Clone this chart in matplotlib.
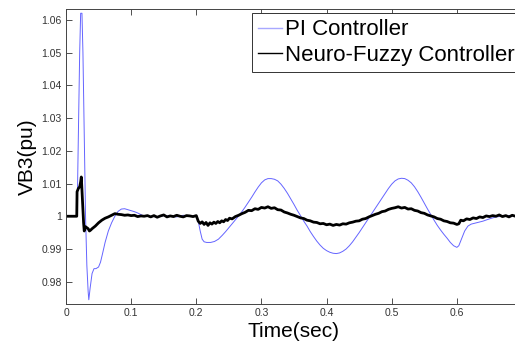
import matplotlib
matplotlib.use("Agg")
import matplotlib.pyplot as plt

plt.rcParams['font.family'] = ['Liberation Sans', 'DejaVu Sans']

# PI controller response
t_pi = [0, 0.017, 0.019, 0.021, 0.0225, 0.0245, 0.026, 0.028, 0.030, 0.032,
        0.034, 0.035, 0.037, 0.040, 0.043, 0.046, 0.050, 0.053, 0.056, 0.060,
        0.065, 0.070, 0.075, 0.080, 0.085, 0.090, 0.095, 0.100, 0.105, 0.110,
        0.115, 0.120, 0.130, 0.140, 0.150, 0.160, 0.170, 0.180, 0.190, 0.200,
        0.203, 0.206, 0.209, 0.212, 0.216, 0.222, 0.228, 0.234,
        0.240, 0.245, 0.250, 0.255, 0.260, 0.265, 0.270, 0.275, 0.280, 0.285,
        0.290, 0.295, 0.300, 0.305, 0.310, 0.315, 0.320, 0.325, 0.330, 0.335,
        0.340, 0.345, 0.350, 0.355, 0.360, 0.365, 0.370, 0.375, 0.380, 0.385,
        0.390, 0.395, 0.400, 0.405, 0.410, 0.415, 0.420, 0.425, 0.430, 0.435,
        0.440, 0.445, 0.450, 0.455, 0.460, 0.465, 0.470, 0.475, 0.480, 0.485,
        0.490, 0.495, 0.500, 0.505, 0.510, 0.515, 0.520, 0.525, 0.530, 0.535,
        0.540, 0.545, 0.550, 0.555, 0.560, 0.565, 0.570, 0.575, 0.580, 0.585,
        0.590, 0.595, 0.600, 0.603, 0.607, 0.612, 0.617, 0.622, 0.630, 0.640,
        0.650, 0.660, 0.670, 0.680, 0.690]
v_pi = [1.0, 1.0, 1.025, 1.05, 1.062, 1.062, 1.05, 1.025, 1.0, 0.985,
        0.977, 0.9745, 0.978, 0.9825, 0.984, 0.984, 0.9845, 0.986, 0.9885, 0.992,
        0.9955, 0.998, 1.0, 1.0015, 1.0022, 1.0023, 1.002, 1.0017, 1.0014, 1.001,
        1.0005, 1.0, 1.0, 0.9998, 1.0002, 1.0, 0.9998, 1.0003, 1.0, 1.0,
        0.9985, 0.9955, 0.993, 0.9922, 0.992, 0.992, 0.9923, 0.993,
        0.9942, 0.9953, 0.9965, 0.9977, 0.9989, 1.0001, 1.0014, 1.0028, 1.0043, 1.0058,
        1.0074, 1.0089, 1.0102, 1.0111, 1.0115, 1.0115, 1.0113, 1.0108, 1.0098, 1.0085,
        1.007, 1.0053, 1.0036, 1.0018, 1.0002, 0.9985, 0.997, 0.9953, 0.9938, 0.9924,
        0.9912, 0.9902, 0.9895, 0.989, 0.9887, 0.9886, 0.9888, 0.9893, 0.99, 0.991,
        0.9922, 0.9936, 0.995, 0.9965, 0.998, 0.9995, 1.001, 1.0025, 1.004, 1.0055,
        1.007, 1.0085, 1.0098, 1.0108, 1.0114, 1.0116, 1.0115, 1.011, 1.0102, 1.009,
        1.0075, 1.0058, 1.004, 1.0022, 1.0005, 0.9988, 0.9972, 0.9958, 0.9945, 0.9933,
        0.992, 0.991, 0.9905, 0.991, 0.993, 0.9955, 0.997, 0.9976, 0.998, 0.9985,
        0.9992, 0.9998, 1.0, 1.0002, 1.0]

# Neuro-fuzzy controller response
t_nf = [0, 0.0165, 0.017, 0.019, 0.021, 0.0225, 0.0235, 0.025, 0.027, 0.028,
        0.030, 0.032, 0.034, 0.036, 0.038, 0.040, 0.045, 0.050, 0.055, 0.060,
        0.065, 0.070, 0.075, 0.080, 0.085, 0.090, 0.095, 0.100, 0.105, 0.110,
        0.115, 0.120, 0.125, 0.130, 0.135, 0.140, 0.145, 0.150, 0.155, 0.160,
        0.165, 0.170, 0.175, 0.180, 0.185, 0.190, 0.195, 0.200,
        0.203, 0.206, 0.209, 0.212, 0.215, 0.218, 0.221, 0.224, 0.227, 0.230,
        0.233, 0.236, 0.239, 0.242, 0.245, 0.248, 0.251, 0.255, 0.260, 0.265,
        0.270, 0.275, 0.280, 0.285, 0.290, 0.295, 0.300, 0.305, 0.310, 0.315,
        0.320, 0.325, 0.330, 0.335, 0.340, 0.345, 0.350, 0.355, 0.360, 0.365,
        0.370, 0.375, 0.380, 0.385, 0.390, 0.395, 0.400, 0.405, 0.410, 0.415,
        0.420, 0.425, 0.430, 0.435, 0.440, 0.445, 0.450, 0.455, 0.460, 0.465,
        0.470, 0.475, 0.480, 0.485, 0.490, 0.495, 0.500, 0.505, 0.510, 0.515,
        0.520, 0.525, 0.530, 0.535, 0.540, 0.545, 0.550, 0.555, 0.560, 0.565,
        0.570, 0.575, 0.580, 0.585, 0.590, 0.595, 0.600, 0.603, 0.606, 0.610,
        0.615, 0.620, 0.625, 0.630, 0.635, 0.640, 0.645, 0.650, 0.655, 0.660,
        0.665, 0.670, 0.675, 0.680, 0.685, 0.690]
v_nf = [1.0, 1.0, 1.0075, 1.0085, 1.009, 1.0105, 1.012, 1.006, 0.998, 0.9955,
        0.9968, 0.9965, 0.9962, 0.9955, 0.9958, 0.9962, 0.997, 0.998, 0.9988, 0.9994,
        0.9998, 1.0003, 1.0008, 1.0006, 1.0005, 1.0003, 1.0004, 1.0002, 1.0003, 0.9999,
        1.0001, 1.0, 1.0002, 0.9998, 1.0002, 0.9997, 1.0001, 1.0004, 0.9998, 1.0001,
        0.9999, 1.0003, 1.0, 0.9998, 1.0002, 1.0001, 0.9999, 1.0002,
        0.9985, 0.9978, 0.9983, 0.9975, 0.9981, 0.9972, 0.998, 0.9976, 0.9982, 0.9978,
        0.9984, 0.998, 0.9986, 0.9983, 0.999, 0.9987, 0.9994, 0.9992, 0.9999, 1.0003,
        1.0008, 1.0012, 1.0018, 1.0017, 1.0023, 1.0021, 1.0027, 1.0025, 1.0029, 1.0024,
        1.0026, 1.002, 1.0019, 1.0013, 1.001, 1.0006, 1.0003, 0.9999, 0.9995, 0.9993,
        0.9988, 0.9986, 0.9982, 0.9981, 0.9977, 0.9978, 0.9974, 0.9976, 0.9972, 0.9975,
        0.9973, 0.9977, 0.9976, 0.998, 0.9982, 0.9985, 0.9986, 0.9991, 0.9993, 0.9998,
        1.0002, 1.0006, 1.0009, 1.0014, 1.0016, 1.0021, 1.0024, 1.0026, 1.0029, 1.0025,
        1.0027, 1.0022, 1.0023, 1.0018, 1.0016, 1.0011, 1.0009, 1.0004, 1.0001, 0.9998,
        0.9993, 0.9991, 0.9986, 0.9984, 0.998, 0.9979, 0.9975, 0.9977, 0.9988, 0.9986,
        0.9992, 0.999, 0.9995, 0.9993, 0.9998, 0.9996, 1.0001, 0.9999, 1.0002, 1.0,
        1.0004, 0.9999, 1.0002, 0.9998, 1.0003, 1.0]

xticks = [0, 0.1, 0.2, 0.3, 0.4, 0.5, 0.6]
yticks = [0.98, 0.99, 1.0, 1.01, 1.02, 1.03, 1.04, 1.05, 1.06]
ytick_labels = ['0.98', '0.99', '1', '1.01', '1.02', '1.03', '1.04', '1.05', '1.06']

fig = plt.figure(figsize=(5.15, 3.41), dpi=100)
ax = fig.add_axes([66 / 515, 1 - 304 / 341, 456 / 515, 295 / 341])

ax.plot(t_pi, v_pi, color='#6464ff', lw=0.7, label='PI Controller')
ax.plot(t_nf, v_nf, color='black', lw=2, label='Neuro-Fuzzy Controller')

ax.set_xlim(0, 0.7)
ax.set_ylim(0.9732, 1.0633)
ax.set_xticks(xticks)
ax.set_xticklabels(['0', '0.1', '0.2', '0.3', '0.4', '0.5', '0.6'])
ax.set_yticks(yticks)
ax.set_yticklabels(ytick_labels)
ax.tick_params(direction='in', length=4, width=0.6, top=True, right=True,
               labelsize=7.5, colors='#333333', pad=3)
for s in ax.spines.values():
    s.set_linewidth(0.7)
    s.set_color('#444444')

ax.set_xlabel('Time(sec)', fontsize=15, labelpad=3)
ax.set_ylabel('VB3(pu)', fontsize=15, labelpad=3)

leg = ax.legend(loc='upper left', bbox_to_anchor=(251.7 / 515, 1 - 12.7 / 341),
                bbox_transform=fig.transFigure, borderaxespad=0, fontsize=16,
                handlelength=1.05, handletextpad=0.15, labelspacing=0.2,
                borderpad=0.3, fancybox=False, framealpha=1)
leg.get_frame().set_edgecolor('#333333')
leg.get_frame().set_linewidth(0.7)
for h in leg.get_lines():
    h.set_linewidth(1.0)
leg.get_lines()[0].set_color('#a8a8ff')

fig.savefig('out.png', dpi=100)
